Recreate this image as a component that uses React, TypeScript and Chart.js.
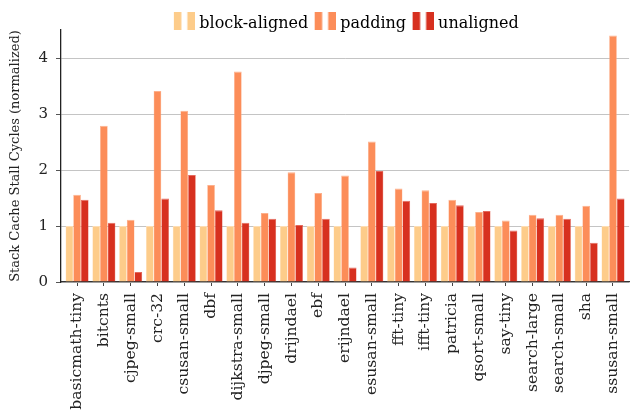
import { useEffect, useRef } from 'react';
import { Chart, registerables } from 'chart.js';

Chart.register(...registerables);

const categories = [
  'basicmath-tiny', 'bitcnts', 'cjpeg-small', 'crc-32', 'csusan-small', 'dbf',
  'dijkstra-small', 'djpeg-small', 'drijndael', 'ebf', 'erijndael', 'esusan-small',
  'fft-tiny', 'ifft-tiny', 'patricia', 'qsort-small', 'say-tiny', 'search-large',
  'search-small', 'sha', 'ssusan-small',
];
const seriesNames = ['block-aligned', 'padding', 'unaligned'];
const blockAligned = [1, 1, 1, 1, 1, 1, 1, 1, 1, 1, 1, 1, 1, 1, 1, 1, 1, 1, 1, 1, 1];
const paddingValues = [1.56, 2.79, 1.11, 3.41, 3.06, 1.73, 3.76, 1.23, 1.96, 1.59, 1.9, 2.51, 1.67, 1.64, 1.47, 1.25, 1.1, 1.2, 1.2, 1.36, 4.4];
const unalignedValues = [1.47, 1.06, 0.18, 1.49, 1.91, 1.28, 1.06, 1.13, 1.02, 1.13, 0.26, 1.98, 1.45, 1.41, 1.37, 1.27, 0.92, 1.14, 1.13, 0.7, 1.49];
const yTickValues = [0, 1, 2, 3, 4];
const colors = ['#FDCC8A', '#FC8D59', '#D7301F'];
const edgeColors = ['#FEDDB2', '#FDB08C', '#E4695C'];

const SERIF = "'DejaVu Serif', serif";

function makeIcon(color: string): HTMLCanvasElement {
  const c = document.createElement('canvas');
  c.width = 27;
  c.height = 24;
  const ctx = c.getContext('2d')!;
  ctx.fillStyle = color;
  ctx.fillRect(6, 0, 7.5, 18);
  ctx.fillRect(19.5, 0, 7.5, 18);
  return c;
}

export default function App() {
  const ref = useRef<HTMLCanvasElement | null>(null);
  useEffect(() => {
    document.body.style.margin = '0';
    const canvas = ref.current;
    if (!canvas) return;
    const icons = colors.map(makeIcon);
    const series = [blockAligned, paddingValues, unalignedValues];
    const shiftLegend = {
      id: 'shiftLegend',
      afterLayout(chart: any) {
        const lg = chart.legend;
        if (lg) {
          lg.top += 12;
          lg.bottom += 12;
        }
      },
    };
    const chart = new Chart(canvas, {
      type: 'bar',
      data: {
        datasets: series.map((vals, k) => ({
          label: seriesNames[k],
          data: vals.map((v, i) => ({ x: i, y: v })),
          backgroundColor: colors[k],
          borderColor: edgeColors[k],
          borderWidth: { top: 1, left: 0.5, right: 0.5, bottom: 0 },
          borderSkipped: 'bottom',
          categoryPercentage: 0.86,
          barPercentage: 1,
        })),
      },
      options: {
        animation: false,
        responsive: false,
        layout: { padding: { left: 0, right: 1, top: 0, bottom: 0 } },
        plugins: {
          tooltip: { enabled: false },
          legend: {
            position: 'top',
            fullSize: false,
            labels: {
              usePointStyle: true,
              pointStyleWidth: 20,
              padding: 4,
              color: '#222',
              font: { family: SERIF, size: 16 },
              generateLabels: () =>
                seriesNames.map((name, k) => ({
                  text: name,
                  pointStyle: icons[k],
                  fillStyle: colors[k],
                  strokeStyle: colors[k],
                  lineWidth: 0,
                  hidden: false,
                  datasetIndex: k,
                })),
            },
          },
        },
        scales: {
          x: {
            type: 'linear',
            min: -0.6,
            max: 20.6,
            offset: false,
            afterBuildTicks: (s: any) => {
              s.ticks = categories.map((_, i) => ({ value: i }));
            },
            afterFit: (s: any) => {
              s.height = 134;
            },
            ticks: {
              autoSkip: false,
              minRotation: 90,
              maxRotation: 90,
              padding: 7,
              color: '#222',
              font: { family: SERIF, size: 15.6 },
              callback: (v: any) => categories[Math.round(Number(v))] ?? '',
            },
            grid: {
              offset: false,
              drawOnChartArea: false,
              drawTicks: true,
              tickLength: 4,
              tickColor: '#444',
            },
            border: { color: '#333', width: 1.2 },
          },
          y: {
            min: 0,
            max: 4.5,
            afterBuildTicks: (s: any) => {
              s.ticks = yTickValues.map((v) => ({ value: v }));
            },
            afterFit: (s: any) => {
              s.width = 61;
            },
            ticks: {
              padding: 8,
              color: '#222',
              font: { family: SERIF, size: 15 },
              callback: (v: any) => String(v),
            },
            grid: {
              color: '#c4c4c4',
              lineWidth: 1,
              drawTicks: true,
              tickLength: 5,
              tickColor: '#555',
            },
            border: { color: '#222', width: 1.3 },
            title: {
              display: true,
              text: 'Stack Cache Stall Cycles (normalized)',
              color: '#222',
              font: { family: SERIF, size: 13 },
              padding: { top: 8, bottom: 0 },
            },
          },
        },
      },
      plugins: [shiftLegend],
    } as any);
    return () => chart.destroy();
  }, []);
  return <canvas ref={ref} width={639} height={416} style={{ display: 'block' }} />;
}
